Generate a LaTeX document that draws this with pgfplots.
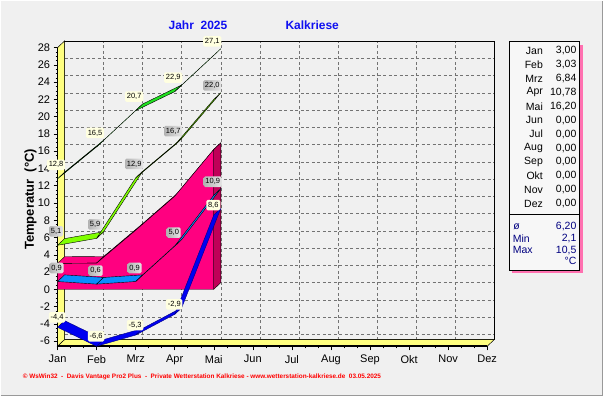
\documentclass[border=0pt]{standalone}
\usepackage{fontspec}
\setmainfont{Liberation Sans}
\usepackage{pgfplots}
\pgfplotsset{compat=1.18}
\usepackage{pgfplotstable}

\definecolor{bgc}{HTML}{F0F0F0}
\definecolor{wallc}{HTML}{FFFF80}
\definecolor{pinkc}{HTML}{FF0080}
\definecolor{pinkd}{HTML}{C00058}
\definecolor{grmax}{HTML}{20E020}
\definecolor{grsec}{HTML}{80FF00}
\definecolor{cyanc}{HTML}{0A8CFF}
\definecolor{bluec}{HTML}{0000F0}
\definecolor{navyc}{HTML}{000080}
\definecolor{titc}{HTML}{1010F0}
\definecolor{labyel}{HTML}{FFFFE0}
\definecolor{labgray}{HTML}{D0D0D0}
\definecolor{shadc}{HTML}{FF70B0}

% monthly values (Jan..Mai)
\pgfplotstableread{
x y
0 12.8
1 16.5
2 20.7
3 22.9
4 27.1
}\tmax
\pgfplotstableread{
x y
0 5.1
1 5.9
2 12.9
3 16.7
4 22.0
}\tavgmax
\pgfplotstableread{
x y
0 3.00
1 3.03
2 6.84
3 10.78
4 16.20
}\tmean
\pgfplotstableread{
x y
0 0.9
1 0.6
2 0.9
3 5.0
4 10.9
}\tavgmin
\pgfplotstableread{
x y
0 -4.4
1 -6.6
2 -5.3
3 -2.9
4 8.6
}\tmin

\newcommand\DX{0.18}
\newcommand\DY{0.77}

% 3D ribbon: one parallelogram per segment (front line -> back line)
\newcommand\ribbon[3]{%
  \pgfplotstablegetrowsof{#1}%
  \pgfmathtruncatemacro\nseg{\pgfplotsretval-2}%
  \foreach \i in {0,...,\nseg}{%
    \pgfmathtruncatemacro\j{\i+1}%
    \pgfplotstablegetelem{\i}{x}\of#1\let\xa\pgfplotsretval
    \pgfplotstablegetelem{\i}{y}\of#1\let\ya\pgfplotsretval
    \pgfplotstablegetelem{\j}{x}\of#1\let\xb\pgfplotsretval
    \pgfplotstablegetelem{\j}{y}\of#1\let\yb\pgfplotsretval
    \pgfmathsetmacro\xc{\xb+\DX}\pgfmathsetmacro\yc{\yb+\DY}%
    \pgfmathsetmacro\xd{\xa+\DX}\pgfmathsetmacro\yd{\ya+\DY}%
    \edef\tmp{\noexpand\addplot[fill=#2,draw=#3,line width=0.4pt,line join=round] coordinates {(\xa,\ya) (\xb,\yb) (\xc,\yc) (\xd,\yd)} -- cycle;}%
    \tmp
  }%
}

\tikzset{
  labY/.style={fill=labyel, rounded corners=1.5pt, inner xsep=1.8pt, inner ysep=2.2pt, font=\fontsize{7.5}{8}\selectfont, text=black},
  labG/.style={left color=black!30, right color=black!10, rounded corners=1.5pt, inner xsep=1.8pt, inner ysep=2.2pt, font=\fontsize{7.5}{8}\selectfont, text=black},
}
\newcommand\numlab{\pgfmathprintnumber[fixed,fixed zerofill,precision=1,use comma,assume math mode=true]{\pgfplotspointmeta}}

\newcommand\boxrow[3]{%
  \node[anchor=east, inner sep=0pt, font=\fontsize{10.5}{12}\selectfont] at (543pt,#1pt) {#2};
  \node[anchor=east, inner sep=0pt, font=\fontsize{10.5}{12}\selectfont] at (576.5pt,#1pt) {#3};
}

\begin{document}
\begin{tikzpicture}
\fill[bgc] (0pt,0pt) rectangle (603pt,396pt);
\draw[black!40, line width=1.2pt] (0pt,0.6pt) -- (602.4pt,0.6pt) -- (602.4pt,396pt);

% back wall with grid
\begin{axis}[
  at={(64pt,56.6pt)}, anchor=south west, scale only axis,
  width=430.1pt, height=298.9pt,
  xmin=0, xmax=11, ymin=-6.6, ymax=28,
  xtick={0,...,11}, ytick={-6,-4,...,28},
  xticklabels={}, yticklabels={},
  major tick length=0pt, minor tick length=0pt,
  grid=major,
  major grid style={black!55, dash pattern=on 3pt off 2.5pt, line width=0.5pt},
  axis line style={black, line width=0.8pt},
]
\end{axis}

% front axis with walls and data
\begin{axis}[
  at={(57pt,50pt)}, anchor=south west, scale only axis,
  width=437.1pt, height=305.6pt,
  xmin=0, xmax=11.18, ymin=-6.6, ymax=28.77,
  axis line style={draw=none},
  clip=false,
  xtick={0,...,11},
  xticklabels={Jan,Feb,Mrz,Apr,Mai,Jun,Jul,Aug,Sep,Okt,Nov,Dez},
  ytick={-6,-4,...,28},
  minor x tick num=2, minor y tick num=3,
  tick align=outside, tick pos=left,
  major tick length=4pt, minor tick length=2pt,
  tick style={black, line width=0.5pt},
  ticklabel style={font=\fontsize{11}{12}\selectfont},
  xticklabel style={yshift=-1.5pt},
  /pgf/number format/assume math mode=true,
]
% walls
\addplot[fill=wallc, draw=black, line width=0.5pt] coordinates {(0,-6.6) (0,28) (0.18,28.77) (0.18,-5.83)} -- cycle;
\addplot[fill=wallc, draw=black, line width=0.5pt] coordinates {(0,-6.6) (11,-6.6) (11.18,-5.83) (0.18,-5.83)} -- cycle;
\addplot[black, line width=1.6pt] coordinates {(0,28) (0,-6.6) (11,-6.6)};

% mean temperature as 3D area
\ribbon{\tmean}{pinkc}{black}
\addplot[fill=pinkc, draw=black, line width=0.4pt] coordinates {(0,0) (0,3.00) (1,3.03) (2,6.84) (3,10.78) (4,16.20) (4,0)} -- cycle;
\addplot[fill=pinkd, draw=black, line width=0.4pt] coordinates {(4,0) (4,16.20) (4.18,16.97) (4.18,0.77)} -- cycle;

% ribbons
\ribbon{\tavgmax}{grsec}{black}
\ribbon{\tmax}{grmax}{black}
\ribbon{\tavgmin}{cyanc}{black}
\ribbon{\tmin}{bluec}{navyc}

% value labels
\addplot[draw=none, point meta=y, nodes near coords=\numlab,
  every node near coord/.style={labY, anchor=center, yshift=14pt, xshift=-1.5pt}] table {\tmax};
\addplot[draw=none, point meta=y, nodes near coords=\numlab,
  every node near coord/.style={labG, anchor=center, yshift=14pt, xshift=-1.5pt}] table {\tavgmax};
\addplot[draw=none, point meta=y, nodes near coords=\numlab,
  every node near coord/.style={labG, anchor=center, yshift=13.5pt, xshift=-1pt}] table {\tavgmin};
\addplot[draw=none, point meta=y, nodes near coords=\numlab,
  every node near coord/.style={labY, anchor=center, yshift=10pt, xshift=-0.5pt}] table {\tmin};
\end{axis}

% titles
\node[anchor=west, inner sep=0pt, text=titc, font=\fontsize{12}{14}\selectfont\bfseries] at (168pt,371pt) {Jahr\ \ 2025};
\node[anchor=west, inner sep=0pt, text=titc, font=\fontsize{12}{14}\selectfont\bfseries] at (285pt,371pt) {Kalkriese};
\node[rotate=90, inner sep=0pt, font=\fontsize{13}{15}\selectfont\bfseries] at (30pt,197pt) {Temperatur\ \ (°C)};

% footer
\node[anchor=west, inner sep=0pt, text=red, font=\fontsize{6.4}{7}\selectfont\bfseries] at (22pt,19pt)
  {© WsWin32\ \ -\ \ Davis Vantage Pro2 Plus\ \ -\ \ Private Wetterstation Kalkriese - www.wetterstation-kalkriese.de\ \ 03.05.2025};

% right summary box
\fill[shadc] (512pt,123pt) rectangle (583pt,352pt);
\fill[white!97!black] (509pt,126pt) rectangle (579pt,355pt);
\draw[black, line width=0.8pt] (509pt,126pt) rectangle (579pt,355pt);
\draw[black, line width=0.8pt] (509pt,182pt) -- (579pt,182pt);
\boxrow{346}{Jan}{3,00}
\boxrow{332.1}{Feb}{3,03}
\boxrow{318.1}{Mrz}{6,84}
\boxrow{304.2}{Apr}{10,78}
\boxrow{290.2}{Mai}{16,20}
\boxrow{276.3}{Jun}{0,00}
\boxrow{262.4}{Jul}{0,00}
\boxrow{248.4}{Aug}{0,00}
\boxrow{234.5}{Sep}{0,00}
\boxrow{220.5}{Okt}{0,00}
\boxrow{206.6}{Nov}{0,00}
\boxrow{192.7}{Dez}{0,00}
\begin{scope}[every node/.style={inner sep=0pt, text=navyc, font=\fontsize{10.5}{12}\selectfont}]
\node[anchor=center] at (516.5pt,170pt) {ø};
\node[anchor=east] at (576.5pt,170pt) {6,20};
\node[anchor=west] at (512.5pt,158pt) {Min};
\node[anchor=east] at (576.5pt,158pt) {2,1};
\node[anchor=west] at (512.5pt,146pt) {Max};
\node[anchor=east] at (576.5pt,146pt) {10,5};
\node[anchor=east] at (576.5pt,135pt) {°C};
\end{scope}
\end{tikzpicture}
\end{document}
